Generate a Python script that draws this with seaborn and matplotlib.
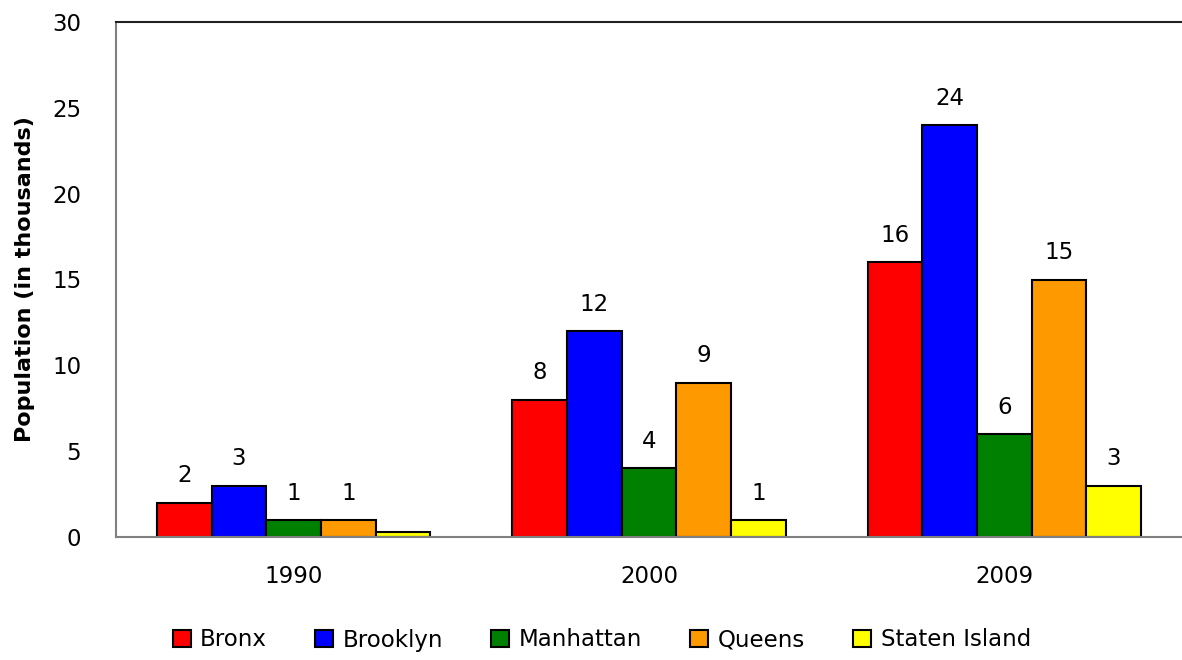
import seaborn as sns
import matplotlib.pyplot as plt
import pandas as pd

years = ["1990", "2000", "2009"]
boroughs = ["Bronx", "Brooklyn", "Manhattan", "Queens", "Staten Island"]
bronx = [2, 8, 16]
brooklyn = [3, 12, 24]
manhattan = [1, 4, 6]
queens = [1, 9, 15]
staten_island = [0.3, 1, 3]
colors = ["#FF0000", "#0000FF", "#008000", "#FF9900", "#FFFF00"]

rows = []
for name, vals in zip(boroughs, [bronx, brooklyn, manhattan, queens, staten_island]):
    for yr, v in zip(years, vals):
        rows.append({"Year": yr, "Borough": name, "Population": v})
df = pd.DataFrame(rows)

sns.set_style("white")
plt.rcParams["font.family"] = ["DejaVu Sans"]
plt.rcParams["text.color"] = "black"
plt.rcParams["axes.labelcolor"] = "black"
plt.rcParams["xtick.color"] = "black"
plt.rcParams["ytick.color"] = "black"

fig = plt.figure(figsize=(11.82, 6.6), dpi=100)
ax = fig.add_axes([116 / 1182, 1 - 537 / 660, 1 - 116 / 1182, (537 - 22) / 660])

sns.barplot(data=df, x="Year", y="Population", hue="Borough", order=years,
            hue_order=boroughs, palette=colors, width=0.77, saturation=1,
            edgecolor="black", linewidth=1.5, ax=ax)

for cont in ax.containers:
    labels = [f"{round(b.get_height())}" if round(b.get_height()) > 0 else "" for b in cont]
    ax.bar_label(cont, labels=labels, padding=11, fontsize=16.5, color="black")

ax.set_xlim(-0.5, 2.5)
ax.set_ylim(0, 30)
ax.set_yticks(range(0, 31, 5))
ax.tick_params(axis="both", length=0, labelsize=16.5)
ax.tick_params(axis="x", pad=20)
ax.tick_params(axis="y", pad=25)
ax.set_xlabel("")
ax.set_ylabel("Population (in thousands)", fontsize=16, fontweight="bold", labelpad=12)

for s in ["left", "bottom"]:
    ax.spines[s].set_color("#808080")
    ax.spines[s].set_linewidth(1.5)
ax.spines["top"].set_color("#202020")
ax.spines["top"].set_linewidth(1.5)
ax.spines["right"].set_visible(False)

ax.legend(loc="center", bbox_to_anchor=(0.5 - 0.5 * 116 / 1066 + 0.01, -0.2), ncol=5,
          frameon=False, fontsize=16.5, handlelength=0.8, handleheight=0.8,
          handletextpad=0.4, columnspacing=2.1)

fig.savefig("out.png", dpi=100)
